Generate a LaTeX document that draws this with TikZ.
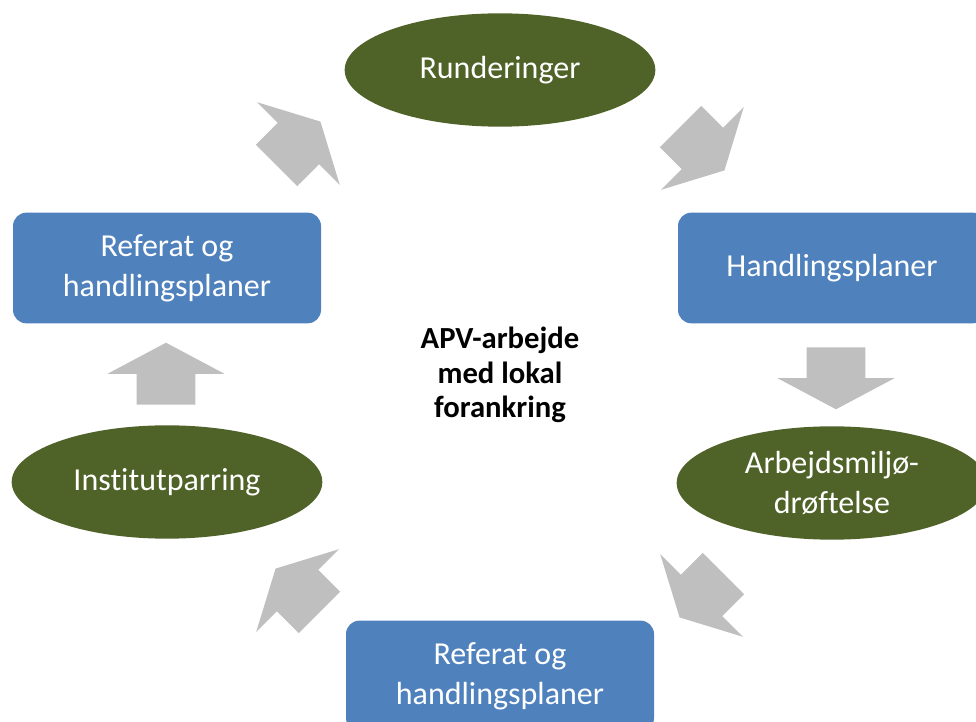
\documentclass[tikz,border=0pt]{standalone}
\usepackage{fontspec}
\setmainfont{Carlito}[Ligatures=CommonOff]
\usetikzlibrary{shapes.geometric,shapes.arrows}
\definecolor{olivegreen}{RGB}{79,98,40}
\definecolor{boxblue}{RGB}{79,129,189}
\definecolor{arrowgrey}{RGB}{191,191,191}
\tikzset{
	every node/.style = {inner sep=0},
}

\begin{document}
\begin{tikzpicture}[x=0.75pt,y=0.75pt,
oval/.style = {ellipse, fill=olivegreen, text=white, align=center, minimum width=233pt, minimum height=85pt, font=\fontsize{24}{30}\selectfont},
box/.style = {rectangle, rounded corners=10pt, fill=boxblue, text=white, align=center, minimum width=231pt, minimum height=83pt, font=\fontsize{24}{30}\selectfont},
flow/.style = {single arrow, fill=arrowgrey, inner xsep=0pt, inner ysep=21.75pt, minimum height=46.5pt, single arrow head extend=22pt, single arrow tip angle=124, single arrow head indent=0pt}]
\useasboundingbox (0,0) rectangle (976,722);
\clip (0,0) rectangle (976,722);
\node[oval] (runder) at (500,652) {Runderinger};
\node[box] (handplan) at (832,454) {Handlingsplaner};
\node[oval] (arbmiljo) at (832,239) {Arbejdsmiljø-\\drøftelse};
\node[box] (referatb) at (500,46) {Referat og\\handlingsplaner};
\node[oval] (institut) at (167,240) {Institutparring};
\node[box] (referata) at (167,454) {Referat og\\handlingsplaner};
\node[align=center, font=\bfseries\fontsize{23}{26}\selectfont] (apv) at (500,347) {APV-arbejde\\med lokal\\forankring};
% arrows round the cycle
\node[flow, rotate=-45] (flowa) at (697,579) {};
\node[flow, rotate=-90] (flowb) at (836,351.5) {};
\node[flow, rotate=-135] (flowc) at (707,132) {};
\node[flow, rotate=135] (flowd) at (303,126) {};
\node[flow, rotate=90] (flowe) at (166,340.5) {};
\node[flow, rotate=45] (flowf) at (293,573) {};
\end{tikzpicture}
\end{document}
